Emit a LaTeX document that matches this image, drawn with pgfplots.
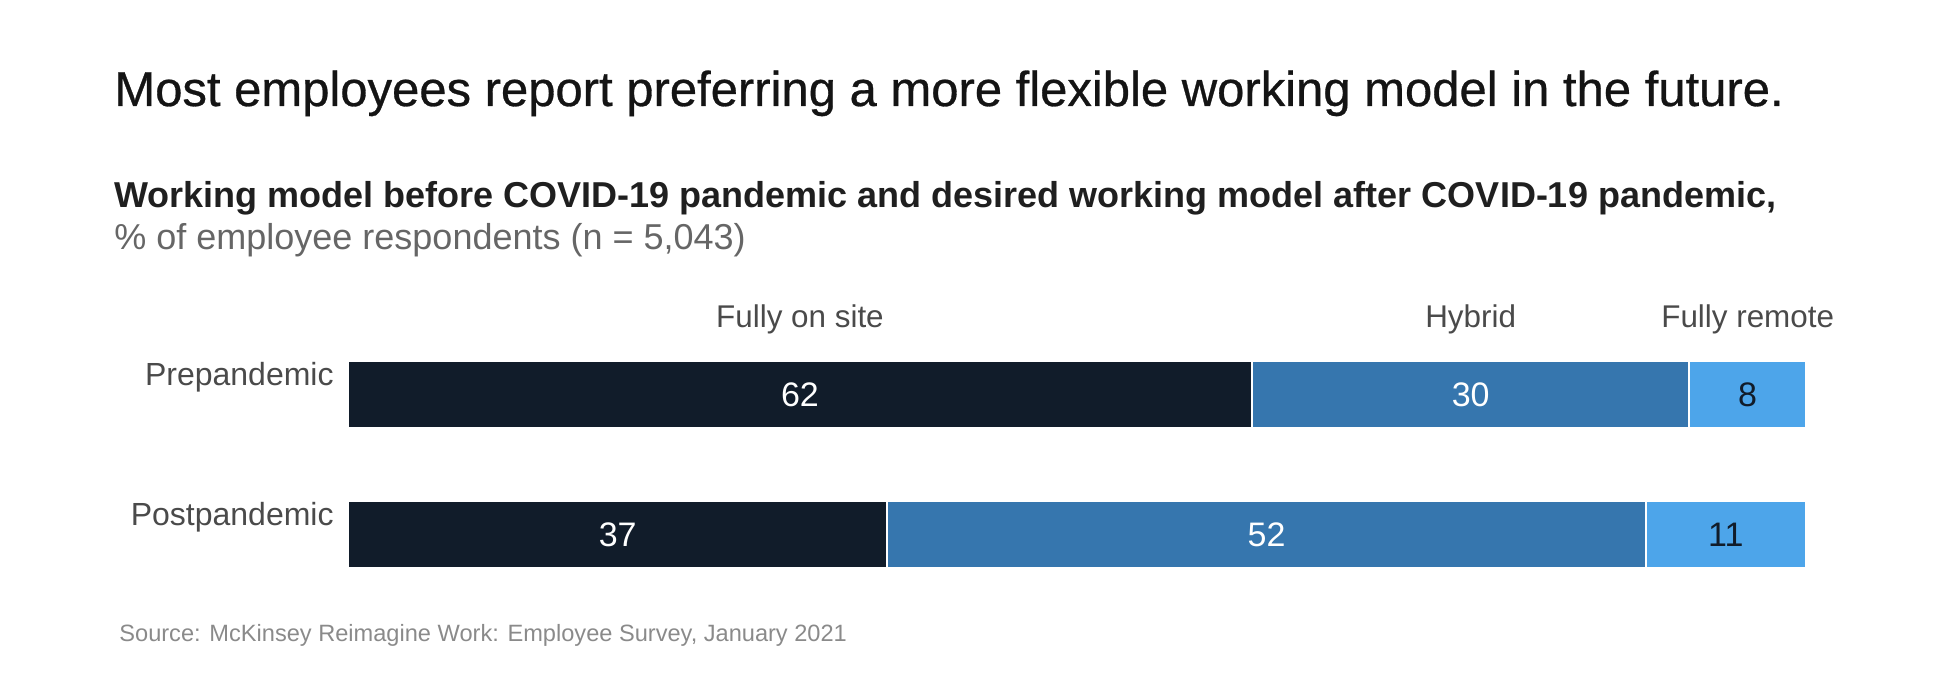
\documentclass[border=0pt]{standalone}
\usepackage{pgfplots}
\pgfplotsset{compat=1.18}
\usepackage{fontspec}
\setmainfont{Liberation Sans}
\definecolor{navy}{HTML}{111C2A}
\definecolor{midblue}{HTML}{3676AE}
\definecolor{lightblue}{HTML}{4DA5EA}
\definecolor{labgray}{HTML}{4A4A4A}
\definecolor{subgray}{HTML}{666666}
\definecolor{srcgray}{HTML}{8A8A8A}
\tikzset{numlab/.style={font=\fontsize{17}{20}\selectfont, inner sep=0pt},
  catlab/.style={font=\fontsize{15.7}{19}\selectfont, inner sep=0pt, anchor=base, text=labgray, yshift=33.25pt}}
\begin{document}
\begin{tikzpicture}
\path[use as bounding box] (0,0) rectangle (970pt,343pt);
\node[anchor=base west, inner sep=0pt, font=\fontsize{24.5}{29}\selectfont\addfontfeature{FakeBold=0.6}, text=black!92] at (57pt,290pt) {Most employees report preferring a more flexible working model in the future.};
\node[anchor=base west, inner sep=0pt, font=\fontsize{18}{22}\selectfont\bfseries, text=black!88] at (57pt,239pt) {Working model before COVID-19 pandemic and desired working model after COVID-19 pandemic,};
\node[anchor=base west, inner sep=0pt, font=\fontsize{18}{22}\selectfont, text=subgray] at (57pt,218pt) {\% of employee respondents (n = 5,043)};
\node[anchor=base west, inner sep=0pt, font=\fontsize{11.8}{14}\selectfont, text=srcgray] at (59.5pt,22pt) {Source: McKinsey Reimagine Work: Employee Survey, January 2021};
\begin{axis}[
  at={(174pt,40.75pt)}, anchor=south west,
  width=729pt, height=140pt, scale only axis,
  xbar stacked, bar width=33.5pt,
  xmin=0, xmax=100, ymin=-0.5, ymax=1.5,
  axis line style={draw=none}, tick style={draw=none},
  xtick=\empty, ytick={0,1}, yticklabels={Postpandemic,Prepandemic},
  yticklabel style={anchor=base east, inner sep=0pt, xshift=-7pt, yshift=4.5pt,
    font=\fontsize{16}{19}\selectfont, text=labgray},
  clip=false,
]
\addplot[fill=navy, draw=white, line width=1pt] coordinates {(62,1) (37,0)};
\addplot[fill=midblue, draw=white, line width=1pt] coordinates {(30,1) (52,0)};
\addplot[fill=lightblue, draw=white, line width=1pt] coordinates {(8,1) (11,0)};
\coordinate (a1) at (axis cs:31,1);
\coordinate (a2) at (axis cs:77,1);
\coordinate (a3) at (axis cs:96,1);
\coordinate (b1) at (axis cs:18.5,0);
\coordinate (b2) at (axis cs:63,0);
\coordinate (b3) at (axis cs:94.5,0);
\end{axis}
\node[numlab, text=white] at (a1) {62};
\node[numlab, text=white] at (a2) {30};
\node[numlab, text=navy] at (a3) {8};
\node[numlab, text=white] at (b1) {37};
\node[numlab, text=white] at (b2) {52};
\node[numlab, text=navy] at (b3) {11};
\node[catlab] at (a1) {Fully on site};
\node[catlab] at (a2) {Hybrid};
\node[catlab] at (a3) {Fully remote};
\end{tikzpicture}
\end{document}
